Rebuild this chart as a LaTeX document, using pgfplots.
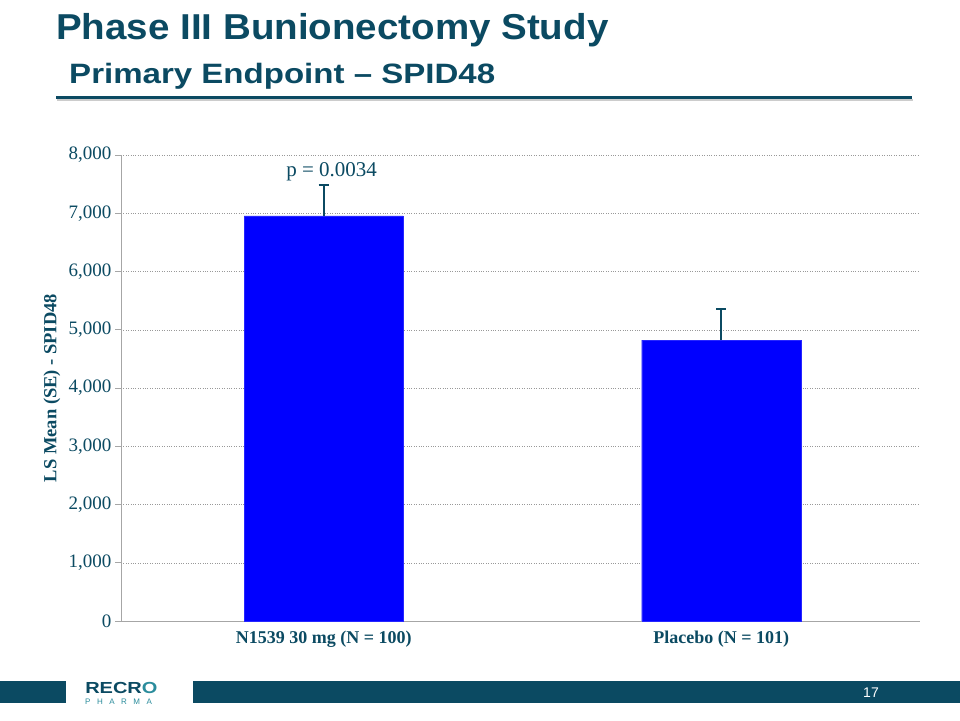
\documentclass[border=0pt]{standalone}
\usepackage{pgfplots}
\pgfplotsset{compat=1.18}
\usepackage{fontspec}
\setmainfont{Liberation Serif}
\newfontfamily\arial{Liberation Sans}
\definecolor{deepteal}{HTML}{0B4A62}
\definecolor{barblue}{HTML}{0000FF}
\definecolor{logoteal}{HTML}{2A8C9C}

\begin{document}
\begin{tikzpicture}
\useasboundingbox (0,0) rectangle (960pt,-720pt);
\fill[white] (0,0) rectangle (960pt,-720pt);

% slide furniture, in pixel units measured from the top left
\begin{scope}[x=1pt,y=-1pt]
  \node[anchor=base west, inner sep=0, text=deepteal, xscale=1.07,
        font=\arial\bfseries\fontsize{36}{40}\selectfont] at (56,39)
        {Phase III Bunionectomy Study};
  \node[anchor=base west, inner sep=0, text=deepteal, xscale=1.18,
        font=\arial\bfseries\fontsize{28}{32}\selectfont] at (69,83)
        {Primary Endpoint – SPID48};
  \draw[black!20, line width=2pt] (57,100) -- (913,100);
  \draw[deepteal, line width=3pt] (56,97) -- (912,97);

  \fill[deepteal] (0,681) rectangle (66,703);
  \fill[deepteal] (193,681) rectangle (960,703);
  \node[anchor=base, inner sep=0, text=white,
        font=\arial\fontsize{14}{16}\selectfont] at (871,697) {17};

  \node[anchor=base west, inner sep=0, xscale=1.25,
        font=\arial\bfseries\fontsize{16}{18}\selectfont] at (85,693)
        {\color{deepteal}RECR\color{logoteal}O};
  \node[anchor=base west, inner sep=0, text=logoteal,
        font=\arial\fontsize{8}{9}\selectfont] at (85,704)
        {P\hspace{6.5pt}H\hspace{6.5pt}A\hspace{6.5pt}R\hspace{6.5pt}M\hspace{6.5pt}A};
\end{scope}

\begin{axis}[
  at={(121pt,-621pt)}, anchor=south west,
  scale only axis, width=799pt, height=466pt,
  xmin=-0.51, xmax=1.5,
  ymin=0, ymax=8000,
  ybar, bar width=0.4,
  axis x line*=bottom, axis y line*=left,
  axis line style={black!35, line width=0.8pt},
  xtick={0,1},
  xticklabels={N1539 30 mg (N = 100), Placebo (N = 101)},
  x tick style={draw=none},
  ytick={0,1000,...,8000},
  y tick style={black!35, line width=0.8pt},
  tick align=outside, major tick length=6pt,
  ymajorgrids,
  grid style={dotted, black!40},
  yticklabel style={font=\fontsize{19}{21}\selectfont, text=deepteal},
  xticklabel style={font=\bfseries\fontsize{18}{20}\selectfont, text=deepteal},
  ylabel={LS Mean (SE) - SPID48},
  ylabel style={font=\bfseries\fontsize{18.5}{20}\selectfont, text=deepteal,
                at={(axis description cs:-0.0864,0.5)}, anchor=center},
  /pgf/number format/.cd, 1000 sep={,}, assume math mode=true,
  /pgfplots/.cd,
  clip=false,
]
\addplot[fill=barblue, draw=barblue!85,
  error bars/y dir=plus, error bars/y explicit,
  error bars/error mark=|,
  error bars/error bar style={draw=deepteal, line width=1.6pt},
  error bars/error mark options={draw=deepteal, line width=1.6pt, mark size=5pt}]
  coordinates {(0,6953) +- (0,530) (1,4824) +- (0,532)};

\node[font=\fontsize{21}{24}\selectfont, text=deepteal] at (axis cs:0.02,7710) {p = 0.0034};
\end{axis}
\end{tikzpicture}
\end{document}
